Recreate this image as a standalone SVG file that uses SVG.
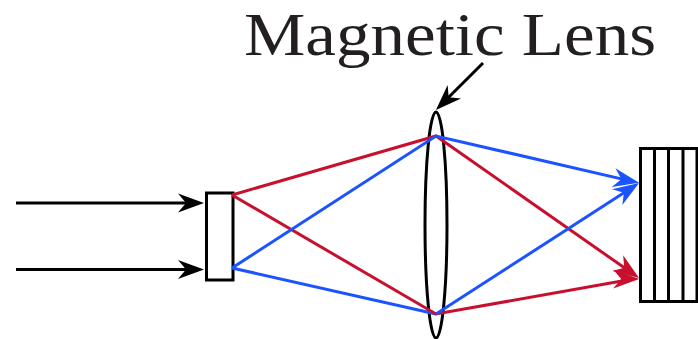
<svg xmlns="http://www.w3.org/2000/svg" width="698" height="339" viewBox="0 0 698 339">
<style>
.sh{fill:#fff;stroke:#000;stroke-width:3}
.ln{fill:none;stroke-width:3;stroke-linejoin:miter}
.k{stroke:#000;marker-end:url(#mk)}
.r{stroke:#c8102e}
.b{stroke:#1a53ff}
.ra{marker-end:url(#mr)}
.ba{marker-end:url(#mb)}
.lbl{font-family:"Liberation Serif","DejaVu Serif",serif;font-size:61.5px;fill:#231f20}
</style>
<defs>
<marker id="mk" markerUnits="userSpaceOnUse" markerWidth="30" markerHeight="24" refX="21" refY="12" orient="auto" viewBox="0 0 30 24"><path d="M1 2.500L27 12L1 21.500L9 12Z" fill="#000"/></marker>
<marker id="mr" markerUnits="userSpaceOnUse" markerWidth="30" markerHeight="24" refX="21" refY="12" orient="auto" viewBox="0 0 30 24"><path d="M1 2.500L27 12L1 21.500L9 12Z" fill="#c8102e"/></marker>
<marker id="mb" markerUnits="userSpaceOnUse" markerWidth="30" markerHeight="24" refX="21" refY="12" orient="auto" viewBox="0 0 30 24"><path d="M1 2.500L27 12L1 21.500L9 12Z" fill="#1a53ff"/></marker>
</defs>
<rect width="698" height="339" fill="#fff"/>
<g id="label"><text class="lbl" x="244" y="55" textLength="412" lengthAdjust="spacingAndGlyphs">Magnetic Lens</text></g>
<g id="lens"><ellipse class="sh" style="fill:none" cx="436" cy="225" rx="11" ry="113"/></g>
<g id="object"><rect class="sh" x="206.500" y="193" width="26.500" height="87"/></g>
<g id="detector">
<rect class="sh" x="640.500" y="148.500" width="60" height="153"/>
<path d="M654.500 148V302M668.500 148V302M683 148V302M697 148V302" fill="none" stroke="#000" stroke-width="3"/>
</g>
<g id="connectors">
<path class="ln k" d="M16 203H198"/>
<path class="ln k" d="M16 269.500H198"/>
<path class="ln k" d="M483 63L440.200 105.800"/>
<path class="ln b" d="M232 268L436 314"/>
<path class="ln r" d="M232 195L436 314L633.100 279"/>
<path class="ln r ra" d="M633.100 279L633.200 279"/>
<path class="ln r" d="M232 195L436 136L634.100 274.600"/>
<path class="ln r ra" d="M634 274.530L634.100 274.600"/>
<path class="ln b" d="M232 268L436 136L633.200 181.600"/>
<path class="ln b ba" d="M633.100 181.580L633.200 181.600"/>
<path class="ln b ba" d="M436 314L634 186.300"/>
</g>
</svg>
